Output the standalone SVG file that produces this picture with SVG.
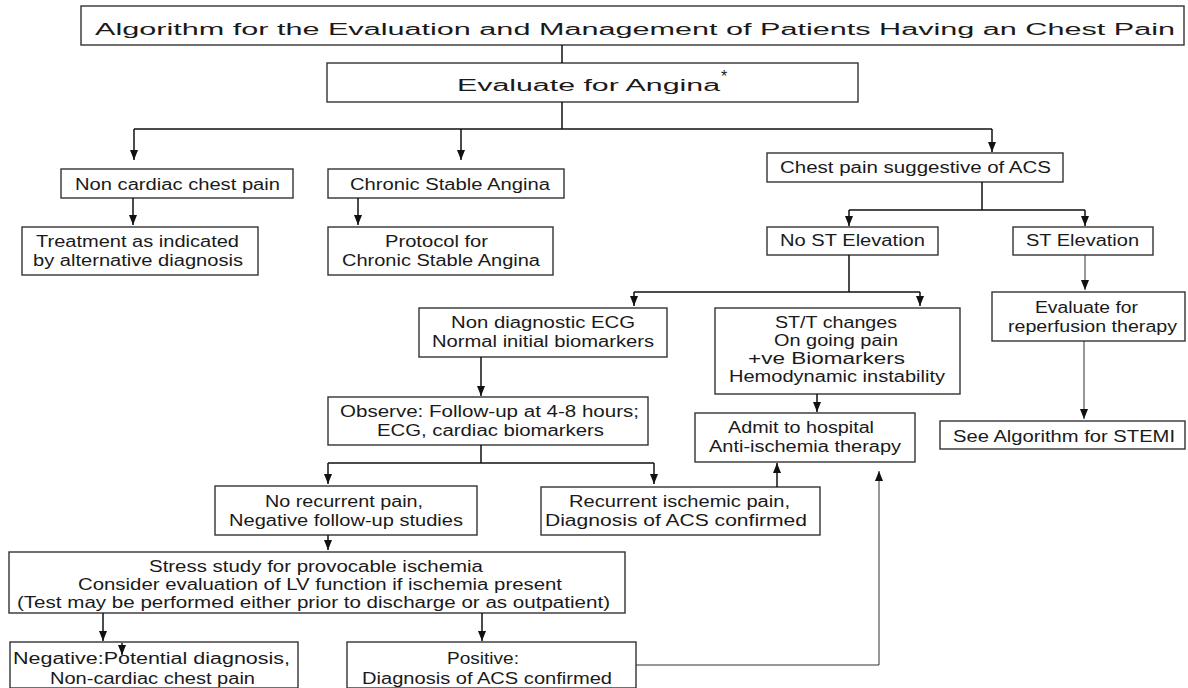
<svg xmlns="http://www.w3.org/2000/svg" width="1188" height="688" viewBox="0 0 1188 688">
<style>
.box{fill:#fff;stroke:#333;stroke-width:1.4}
.t{font-family:"Liberation Sans",Arial,sans-serif;fill:#1a1a1a;font-size:16px}
.ln{fill:none;stroke:#111;stroke-width:1.5}
.ar{fill:none;stroke:#111;stroke-width:1.5;marker-end:url(#ah)}
.thin{fill:none;stroke:#333;stroke-width:1;marker-end:url(#ah)}
</style>
<defs>
<marker id="ah" viewBox="0 0 10 10" refX="10" refY="5" markerWidth="10" markerHeight="8" markerUnits="userSpaceOnUse" orient="auto" preserveAspectRatio="none"><path d="M0,0 L10,5 L0,10 z" fill="#111"/></marker>
</defs>
<rect width="1188" height="688" fill="#fff"/>

<g id="title">
<rect class="box" x="81" y="6" width="1103" height="39"/>
<text class="t" x="95" y="35" font-size="27" textLength="1080" lengthAdjust="spacingAndGlyphs">Algorithm for the Evaluation and Management of Patients Having an Chest Pain</text>
</g>

<g id="evaluate">
<rect class="box" x="327" y="63" width="531" height="39"/>
<text class="t" x="457" y="91" font-size="25" textLength="263" lengthAdjust="spacingAndGlyphs">Evaluate for Angina</text>
<text class="t" x="721" y="82" font-size="10">*</text>
</g>

<g id="noncardiac">
<rect class="box" x="61" y="169" width="232" height="29"/>
<text class="t" x="75" y="190" textLength="205" lengthAdjust="spacingAndGlyphs">Non cardiac chest pain</text>
</g>

<g id="chronic">
<rect class="box" x="328" y="169" width="236" height="29"/>
<text class="t" x="350" y="190" textLength="200" lengthAdjust="spacingAndGlyphs">Chronic Stable Angina</text>
</g>

<g id="treatment">
<rect class="box" x="22" y="227" width="236" height="48"/>
<text class="t" x="36" y="247" textLength="203" lengthAdjust="spacingAndGlyphs">Treatment as indicated</text>
<text class="t" x="33" y="266" textLength="210" lengthAdjust="spacingAndGlyphs">by alternative diagnosis</text>
</g>

<g id="protocol">
<rect class="box" x="328" y="227" width="225" height="48"/>
<text class="t" x="385" y="247" textLength="103" lengthAdjust="spacingAndGlyphs">Protocol for</text>
<text class="t" x="342" y="266" textLength="198" lengthAdjust="spacingAndGlyphs">Chronic Stable Angina</text>
</g>

<g id="acs">
<rect class="box" x="767" y="153" width="296" height="29"/>
<text class="t" x="780" y="173" textLength="271" lengthAdjust="spacingAndGlyphs">Chest pain suggestive of ACS</text>
</g>

<g id="nost">
<rect class="box" x="767" y="227" width="171" height="28"/>
<text class="t" x="780" y="246" textLength="145" lengthAdjust="spacingAndGlyphs">No ST Elevation</text>
</g>

<g id="st">
<rect class="box" x="1013" y="227" width="140" height="28"/>
<text class="t" x="1026" y="246" textLength="113" lengthAdjust="spacingAndGlyphs">ST Elevation</text>
</g>

<g id="reperfusion">
<rect class="box" x="992" y="292" width="193" height="49"/>
<text class="t" x="1035" y="313" font-size="17" textLength="103" lengthAdjust="spacingAndGlyphs">Evaluate for</text>
<text class="t" x="1008" y="332" font-size="17" textLength="169" lengthAdjust="spacingAndGlyphs">reperfusion therapy</text>
</g>

<g id="stemi">
<rect class="box" x="940" y="421" width="245" height="28"/>
<text class="t" x="953" y="442" font-size="18" textLength="222" lengthAdjust="spacingAndGlyphs">See Algorithm for STEMI</text>
</g>

<g id="nondiag">
<rect class="box" x="419" y="308" width="248" height="49"/>
<text class="t" x="451" y="328" textLength="184" lengthAdjust="spacingAndGlyphs">Non diagnostic ECG</text>
<text class="t" x="432" y="347" textLength="222" lengthAdjust="spacingAndGlyphs">Normal initial biomarkers</text>
</g>

<g id="stt">
<rect class="box" x="715" y="308" width="245" height="86"/>
<text class="t" x="775" y="328" font-size="17" textLength="122" lengthAdjust="spacingAndGlyphs">ST/T changes</text>
<text class="t" x="774" y="346" font-size="17" textLength="124" lengthAdjust="spacingAndGlyphs">On going pain</text>
<text class="t" x="748" y="364" font-size="17" textLength="157" lengthAdjust="spacingAndGlyphs">+ve Biomarkers</text>
<text class="t" x="729" y="382" font-size="17" textLength="216" lengthAdjust="spacingAndGlyphs">Hemodynamic instability</text>
</g>

<g id="observe">
<rect class="box" x="328" y="397" width="320" height="48"/>
<text class="t" x="340" y="417" textLength="299" lengthAdjust="spacingAndGlyphs">Observe: Follow-up at 4-8 hours;</text>
<text class="t" x="377" y="436" textLength="227" lengthAdjust="spacingAndGlyphs">ECG, cardiac biomarkers</text>
</g>

<g id="admit">
<rect class="box" x="695" y="413" width="220" height="49"/>
<text class="t" x="728" y="433" font-size="18" textLength="146" lengthAdjust="spacingAndGlyphs">Admit to hospital</text>
<text class="t" x="709" y="452" font-size="18" textLength="192" lengthAdjust="spacingAndGlyphs">Anti-ischemia therapy</text>
</g>

<g id="norecurrent">
<rect class="box" x="215" y="486" width="262" height="49"/>
<text class="t" x="265" y="507" textLength="158" lengthAdjust="spacingAndGlyphs">No recurrent pain,</text>
<text class="t" x="229" y="526" textLength="234" lengthAdjust="spacingAndGlyphs">Negative follow-up studies</text>
</g>

<g id="recurrent">
<rect class="box" x="541" y="487" width="279" height="48"/>
<text class="t" x="569" y="507" textLength="221" lengthAdjust="spacingAndGlyphs">Recurrent ischemic pain,</text>
<text class="t" x="545" y="526" textLength="262" lengthAdjust="spacingAndGlyphs">Diagnosis of ACS confirmed</text>
</g>

<g id="stress">
<rect class="box" x="9" y="552" width="616" height="61"/>
<text class="t" x="149" y="572" textLength="334" lengthAdjust="spacingAndGlyphs">Stress study for provocable ischemia</text>
<text class="t" x="78" y="590" textLength="484" lengthAdjust="spacingAndGlyphs">Consider evaluation of LV function if ischemia present</text>
<text class="t" x="17" y="608" textLength="593" lengthAdjust="spacingAndGlyphs">(Test may be performed either prior to discharge or as outpatient)</text>
</g>

<g id="negative">
<rect class="box" x="10" y="642" width="288" height="46"/>
<text class="t" x="13" y="664" textLength="277" lengthAdjust="spacingAndGlyphs">Negative:Potential diagnosis,</text>
<text class="t" x="50" y="684" textLength="205" lengthAdjust="spacingAndGlyphs">Non-cardiac chest pain</text>
</g>

<g id="positive">
<rect class="box" x="347" y="642" width="289" height="46"/>
<text class="t" x="447" y="664" textLength="72" lengthAdjust="spacingAndGlyphs">Positive:</text>
<text class="t" x="362" y="684" textLength="250" lengthAdjust="spacingAndGlyphs">Diagnosis of ACS confirmed</text>
</g>

<g id="connectors">
<path class="ln" d="M562,45 V63"/>
<path class="ln" d="M562,102 V129 M134,129 H992"/>
<path class="ar" d="M134,129 V160"/>
<path class="ar" d="M461,129 V160"/>
<path class="ar" d="M992,129 V152"/>
<path class="ar" d="M133,198 V225"/>
<path class="ar" d="M358,198 V225"/>
<path class="ln" d="M982,182 V210 M849,210 H1085"/>
<path class="ar" d="M849,210 V226"/>
<path class="ar" d="M1085,210 V226"/>
<path class="ln" d="M849,255 V292 M634,292 H920"/>
<path class="ar" d="M634,292 V306"/>
<path class="ar" d="M920,292 V306"/>
<path class="thin" d="M1085,255 V290"/>
<path class="thin" d="M1084,341 V419"/>
<path class="ar" d="M481,357 V396"/>
<path class="ar" d="M817,394 V412"/>
<path class="ln" d="M481,445 V463 M328,463 H654"/>
<path class="ar" d="M328,463 V484"/>
<path class="ar" d="M654,463 V484"/>
<path class="ar" d="M777,487 V463"/>
<path class="ar" d="M328,535 V550"/>
<path class="ar" d="M103,613 V641"/>
<path class="ar" d="M482,613 V641"/>
<path class="ar" d="M122,643 V655"/>
<path class="thin" d="M636,665 H879 V471"/>
</g>
</svg>
